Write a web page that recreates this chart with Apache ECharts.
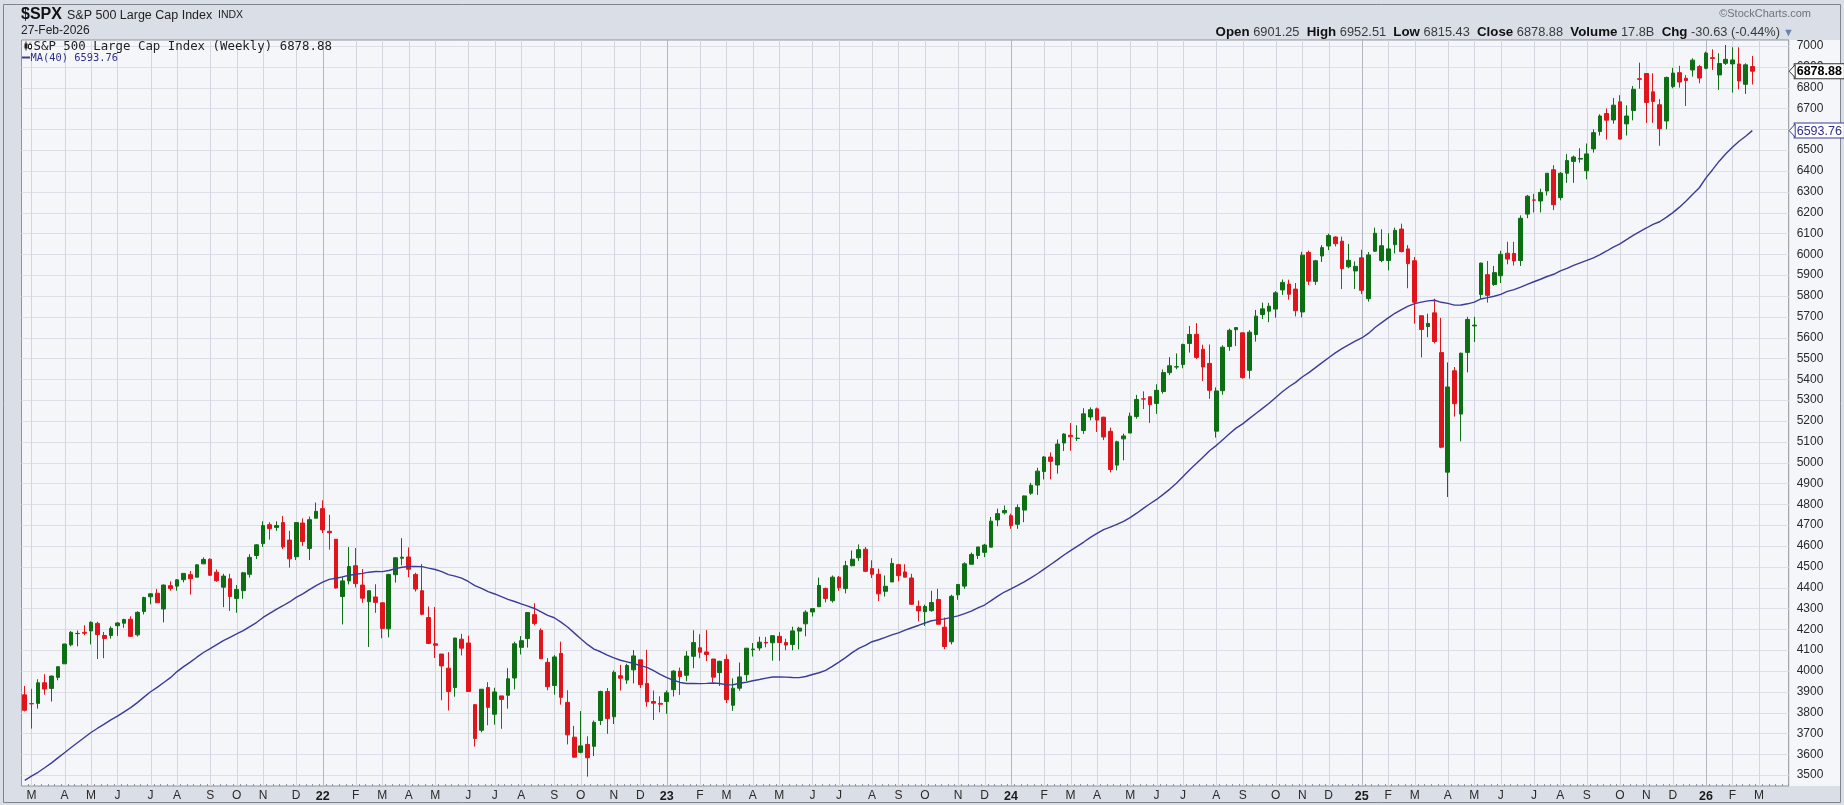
<!DOCTYPE html>
<html>
<head>
<meta charset="utf-8">
<title>$SPX S&amp;P 500 Large Cap Index weekly</title>
<script src="https://cdn.jsdelivr.net/npm/echarts@6/dist/echarts.min.js"></script>
<style>
  html, body { margin: 0; padding: 0; background: #fff; }
  #chart { width: 1844px; height: 805px; }
</style>
</head>
<body>
<div id="chart"></div>
<script>
// weekly bars, first week starts Mon 2021-02-22, last one 2026-02-23
const firstWeek = '2021-02-22'
const padWeeks = 5
// week opens on Tuesday, so it belongs to the next month
const holidayMondays = ['2021-05-31']

const opens = [
  3885, 3843, 3844, 3943, 3916, 3969, 4034, 4125, 4179, 4185,
  4192, 4228, 4170, 4170, 4217, 4229, 4248, 4173, 4285, 4356,
  4373, 4297, 4409, 4407, 4438, 4462, 4450, 4514, 4536, 4474,
  4402, 4442, 4348, 4385, 4464, 4554, 4611, 4702, 4689, 4712,
  4628, 4548, 4710, 4588, 4733, 4779, 4670, 4632, 4357, 4432,
  4505, 4412, 4332, 4355, 4327, 4202, 4462, 4541, 4547, 4463,
  4385, 4256, 4130, 4081, 4013, 3920, 4152, 4134, 3838, 3715,
  3920, 3792, 3880, 3883, 3966, 4113, 4155, 4270, 4195, 4041,
  3930, 4084, 3849, 3682, 3609, 3647, 3638, 3762, 3901, 3780,
  3977, 3956, 4005, 4053, 3940, 3853, 3844, 3853, 3910, 3999,
  3979, 4070, 4111, 4091, 4057, 3992, 4055, 3835, 3917, 3982,
  4102, 4110, 4137, 4135, 4166, 4136, 4127, 4191, 4226, 4283,
  4308, 4396, 4337, 4450, 4395, 4505, 4543, 4584, 4491, 4464,
  4382, 4427, 4510, 4475, 4446, 4310, 4284, 4289, 4343, 4210,
  4140, 4365, 4407, 4512, 4554, 4569, 4594, 4725, 4759, 4745,
  4704, 4772, 4853, 4892, 4957, 5027, 4989, 5094, 5131, 5116,
  5154, 5219, 5258, 5218, 5150, 4988, 5114, 5142, 5221, 5306,
  5316, 5284, 5341, 5432, 5459, 5471, 5572, 5616, 5544, 5476,
  5151, 5345, 5557, 5638, 5623, 5443, 5615, 5711, 5727, 5737,
  5829, 5857, 5833, 5723, 6009, 5870, 5992, 6040, 6083, 6063,
  5940, 5920, 5983, 5787, 6015, 5970, 5970, 6046, 6121, 6026,
  5969, 5705, 5653, 5719, 5528, 4954, 5441, 5233, 5529, 5656,
  5807, 5902, 5855, 5897, 6005, 6004, 5970, 6193, 6261, 6256,
  6304, 6406, 6272, 6389, 6446, 6457, 6401, 6506, 6590, 6676,
  6645, 6732, 6626, 6690, 6843, 6868, 6780, 6718, 6640, 6805,
  6872, 6845, 6885, 6901, 6893, 6944, 6861, 6917, 6914, 6914,
  6816, 6901.25
]
const highs = [
  3928, 3914, 3960, 3984, 3978, 4021, 4130, 4191, 4194, 4219,
  4238, 4236, 4187, 4214, 4234, 4250, 4262, 4286, 4356, 4372,
  4393, 4415, 4430, 4441, 4468, 4480, 4513, 4545, 4540, 4487,
  4466, 4466, 4412, 4475, 4560, 4608, 4718, 4714, 4718, 4744,
  4672, 4713, 4732, 4741, 4808, 4819, 4749, 4632, 4453, 4595,
  4590, 4489, 4385, 4416, 4327, 4466, 4546, 4637, 4593, 4471,
  4513, 4309, 4307, 4081, 4090, 4158, 4178, 4169, 3838, 3913,
  3946, 3919, 3880, 4013, 4140, 4167, 4281, 4325, 4204, 4062,
  4076, 4140, 3907, 3736, 3807, 3686, 3762, 3905, 3918, 4002,
  4029, 4034, 4100, 4053, 4101, 3906, 3878, 3906, 4003, 4016,
  4095, 4195, 4176, 4196, 4057, 4049, 4079, 3964, 4040, 4110,
  4134, 4164, 4163, 4170, 4186, 4154, 4212, 4212, 4291, 4299,
  4448, 4400, 4458, 4456, 4528, 4578, 4607, 4595, 4531, 4491,
  4458, 4541, 4514, 4512, 4466, 4338, 4318, 4385, 4394, 4256,
  4366, 4415, 4521, 4568, 4595, 4610, 4739, 4779, 4794, 4755,
  4799, 4842, 4903, 4975, 5031, 5049, 5111, 5141, 5190, 5179,
  5261, 5265, 5264, 5220, 5168, 5105, 5139, 5240, 5325, 5342,
  5316, 5376, 5447, 5506, 5524, 5571, 5656, 5670, 5566, 5567,
  5361, 5563, 5643, 5651, 5624, 5636, 5733, 5768, 5767, 5823,
  5879, 5878, 5862, 6012, 6018, 5973, 6044, 6099, 6086, 6085,
  6050, 5966, 6022, 6011, 6128, 6120, 6101, 6128, 6147, 6044,
  5987, 5705, 5715, 5787, 5695, 5481, 5459, 5528, 5700, 5700,
  5959, 5968, 5944, 6017, 6060, 6060, 6187, 6285, 6290, 6315,
  6390, 6428, 6395, 6481, 6474, 6509, 6532, 6600, 6672, 6700,
  6750, 6764, 6715, 6808, 6920, 6870, 6869, 6745, 6853, 6895,
  6905, 6860, 6941, 6909, 6973, 6984, 6965, 7005, 6994, 6994,
  6917, 6952.51
]
const lows = [
  3805, 3723, 3819, 3886, 3853, 3955, 4034, 4118, 4118, 4171,
  4127, 4057, 4061, 4155, 4168, 4207, 4164, 4165, 4271, 4320,
  4327, 4233, 4385, 4385, 4425, 4367, 4450, 4513, 4457, 4428,
  4306, 4288, 4279, 4346, 4448, 4537, 4595, 4630, 4672, 4585,
  4496, 4532, 4600, 4532, 4733, 4662, 4582, 4395, 4223, 4415,
  4401, 4327, 4115, 4279, 4157, 4161, 4424, 4507, 4450, 4381,
  4267, 4129, 4062, 3859, 3810, 3876, 4074, 3901, 3637, 3705,
  3739, 3742, 3722, 3819, 3911, 4079, 4112, 4219, 4057, 3907,
  3886, 3838, 3647, 3584, 3604, 3492, 3591, 3740, 3698, 3745,
  3906, 3938, 3940, 3918, 3828, 3764, 3801, 3794, 3877, 3885,
  3950, 4013, 4061, 4047, 3944, 3928, 3846, 3808, 3905, 3951,
  4069, 4097, 4113, 4049, 4048, 4099, 4099, 4103, 4166, 4261,
  4308, 4329, 4328, 4385, 4372, 4502, 4528, 4474, 4446, 4335,
  4357, 4427, 4430, 4450, 4317, 4238, 4216, 4284, 4223, 4104,
  4127, 4341, 4394, 4511, 4537, 4546, 4593, 4695, 4751, 4682,
  4682, 4714, 4845, 4845, 4919, 4920, 4947, 5056, 5057, 5104,
  5138, 5203, 5147, 5108, 4953, 4963, 5011, 5142, 5211, 5257,
  5191, 5234, 5331, 5420, 5448, 5453, 5528, 5497, 5391, 5306,
  5120, 5326, 5537, 5560, 5403, 5403, 5581, 5689, 5674, 5696,
  5805, 5782, 5702, 5697, 5853, 5853, 5963, 6020, 6038, 5833,
  5933, 5833, 5809, 5773, 6011, 5962, 5923, 6004, 6009, 5837,
  5667, 5505, 5602, 5572, 5069, 4835, 5221, 5102, 5433, 5579,
  5786, 5768, 5849, 5862, 5952, 5946, 5944, 6173, 6201, 6201,
  6282, 6212, 6259, 6343, 6343, 6440, 6360, 6488, 6570, 6551,
  6627, 6550, 6570, 6643, 6795, 6631, 6631, 6521, 6600, 6797,
  6800, 6712, 6853, 6821, 6888, 6885, 6789, 6909, 6776, 6792,
  6770, 6815.43
]
const closes = [
  3811, 3842, 3943, 3913, 3975, 4020, 4129, 4185, 4180, 4181,
  4233, 4174, 4156, 4204, 4230, 4247, 4166, 4281, 4352, 4370,
  4327, 4412, 4395, 4437, 4468, 4442, 4509, 4535, 4459, 4433,
  4455, 4357, 4391, 4471, 4545, 4605, 4698, 4683, 4698, 4595,
  4538, 4712, 4621, 4726, 4766, 4677, 4663, 4398, 4432, 4501,
  4419, 4349, 4385, 4329, 4204, 4463, 4543, 4546, 4488, 4393,
  4272, 4132, 4123, 4024, 3901, 4158, 4109, 3901, 3675, 3912,
  3825, 3899, 3863, 3962, 4130, 4145, 4280, 4228, 4058, 3924,
  4067, 3873, 3693, 3586, 3640, 3583, 3753, 3901, 3771, 3993,
  3965, 4026, 4072, 3934, 3852, 3845, 3840, 3895, 3999, 3973,
  4071, 4136, 4090, 4079, 3970, 4046, 3862, 3917, 3971, 4109,
  4105, 4138, 4134, 4169, 4136, 4124, 4192, 4205, 4282, 4299,
  4410, 4348, 4450, 4399, 4505, 4536, 4582, 4478, 4464, 4370,
  4406, 4516, 4457, 4450, 4320, 4288, 4309, 4328, 4224, 4117,
  4358, 4415, 4514, 4559, 4595, 4604, 4719, 4755, 4770, 4697,
  4784, 4840, 4891, 4959, 5027, 5006, 5089, 5137, 5124, 5117,
  5234, 5254, 5204, 5123, 4967, 5100, 5128, 5223, 5303, 5305,
  5278, 5347, 5432, 5465, 5460, 5567, 5615, 5505, 5459, 5347,
  5344, 5554, 5635, 5648, 5408, 5626, 5703, 5738, 5751, 5815,
  5865, 5808, 5729, 5996, 5871, 5969, 6032, 6090, 6051, 5931,
  5971, 5942, 5827, 5997, 6101, 6041, 6026, 6115, 6013, 5955,
  5770, 5639, 5668, 5581, 5074, 5363, 5283, 5525, 5687, 5660,
  5958, 5803, 5912, 6000, 5977, 5968, 6173, 6279, 6260, 6297,
  6389, 6238, 6389, 6450, 6467, 6460, 6482, 6584, 6664, 6644,
  6716, 6553, 6664, 6792, 6840, 6729, 6734, 6603, 6849, 6870,
  6827, 6834, 6932, 6846, 6966, 6940, 6916, 6936, 6933, 6832,
  6909.51, 6878.88
]
// 40-week simple moving average, as plotted
const ma40 = [
  3474.6, 3494.5, 3513.2, 3535.0, 3557.0, 3582.2, 3607.2, 3632.2, 3656.1, 3680.2,
  3704.3, 3724.8, 3744.4, 3764.6, 3782.6, 3803.1, 3823.8, 3847.8, 3874.2, 3899.7,
  3921.0, 3944.2, 3967.4, 3996.6, 4020.6, 4042.0, 4065.8, 4088.2, 4107.2, 4126.4,
  4145.1, 4161.4, 4177.3, 4193.5, 4212.9, 4232.0, 4256.6, 4276.5, 4295.6, 4312.8,
  4330.9, 4352.7, 4369.6, 4390.0, 4409.7, 4426.2, 4439.5, 4444.8, 4451.1, 4459.1,
  4463.8, 4468.2, 4473.9, 4477.0, 4476.4, 4481.8, 4491.2, 4497.8, 4501.2, 4501.8,
  4500.4, 4493.4, 4486.6, 4476.3, 4462.1, 4455.0, 4445.0, 4429.2, 4409.6, 4396.5,
  4380.8, 4369.3, 4356.1, 4343.4, 4333.0, 4321.5, 4311.1, 4299.7, 4283.7, 4266.9,
  4255.2, 4234.2, 4211.0, 4182.5, 4154.3, 4127.0, 4104.2, 4091.8, 4075.3, 4062.6,
  4051.2, 4043.2, 4035.3, 4025.5, 4016.7, 4001.2, 3983.6, 3967.4, 3955.1, 3944.6,
  3939.6, 3939.7, 3938.9, 3940.3, 3942.0, 3939.2, 3933.0, 3933.4, 3940.8, 3945.7,
  3952.7, 3958.7, 3965.5, 3970.7, 3970.8, 3970.3, 3968.1, 3967.5, 3973.1, 3982.5,
  3991.1, 4002.9, 4021.9, 4042.2, 4063.8, 4087.6, 4108.4, 4122.8, 4140.1, 4149.5,
  4160.6, 4172.8, 4182.4, 4195.3, 4207.0, 4218.1, 4229.8, 4240.7, 4246.3, 4249.9,
  4257.1, 4264.0, 4274.6, 4286.6, 4302.3, 4316.2, 4337.6, 4358.6, 4378.6, 4393.3,
  4410.2, 4427.8, 4446.7, 4466.5, 4488.7, 4510.8, 4533.2, 4556.5, 4577.6, 4598.0,
  4618.6, 4641.3, 4660.1, 4678.2, 4689.8, 4703.9, 4717.5, 4736.1, 4757.1, 4780.5,
  4802.3, 4823.1, 4847.4, 4872.8, 4901.3, 4933.3, 4965.9, 4995.4, 5026.2, 5057.0,
  5081.6, 5110.1, 5138.1, 5165.4, 5185.7, 5211.2, 5235.8, 5260.4, 5284.9, 5312.9,
  5339.9, 5364.1, 5385.1, 5411.0, 5432.1, 5456.2, 5479.7, 5503.6, 5526.7, 5547.1,
  5565.5, 5582.7, 5598.3, 5620.1, 5648.5, 5672.0, 5694.5, 5716.8, 5734.5, 5750.8,
  5763.1, 5770.4, 5776.3, 5779.2, 5769.5, 5764.4, 5756.1, 5756.6, 5762.3, 5770.1,
  5785.5, 5791.7, 5798.6, 5807.4, 5821.7, 5830.2, 5842.0, 5855.5, 5868.2, 5880.3,
  5893.4, 5904.1, 5920.6, 5932.0, 5946.9, 5959.1, 5970.4, 5982.7, 5998.1, 6015.9,
  6034.5, 6049.8, 6070.7, 6090.6, 6109.1, 6126.3, 6143.9, 6156.2, 6177.1, 6199.9,
  6226.4, 6256.2, 6287.8, 6319.5, 6366.8, 6406.2, 6447.0, 6482.3, 6513.4, 6542.7,
  6566.5, 6593.76
]
const priceTicks = [
  3500, 3600, 3700, 3800, 3900, 4000, 4100, 4200, 4300, 4400, 4500, 4600,
  4700, 4800, 4900, 5000, 5100, 5200, 5300, 5400, 5500, 5600, 5700, 5800,
  5900, 6000, 6100, 6200, 6300, 6400, 6500, 6600, 6700, 6800, 6900, 7000
]
const monthLetters = ['J', 'F', 'M', 'A', 'M', 'J', 'J', 'A', 'S', 'O', 'N', 'D']
const lastVolume = '17.8B'
const lastDate = '27-Feb-2026'

const UP = '#0e6e14'
const DOWN = '#e0141b'
const MA_COLOR = '#3b3b98'
const FONT = '"Liberation Sans", Arial, sans-serif'
const MONO = '"DejaVu Sans Mono", monospace'
const Y_MIN = 3447.4
const Y_MAX = 7028.8

// category list: one per week, plus empty weeks on the right
function buildWeeks () {
  const out = []
  const d = new Date(firstWeek + 'T00:00:00Z')
  for (let i = 0; i < opens.length + padWeeks; i++) {
    out.push(d.toISOString().slice(0, 10))
    d.setUTCDate(d.getUTCDate() + 7)
  }
  return out
}
const weeks = buildWeeks()

function tradeMonth (date) {
  const d = new Date(date + 'T00:00:00Z')
  if (holidayMondays.includes(date)) d.setUTCDate(d.getUTCDate() + 1)
  return d.getUTCMonth()
}
const monthStart = weeks.map((w, i) => i > 0 && tradeMonth(w) !== tradeMonth(weeks[i - 1]))

const n = closes.length
const lastClose = closes[n - 1]
const lastMA = ma40[n - 1]
const chg = lastClose - closes[n - 2]
const chgPct = chg / closes[n - 2] * 100

const chart = echarts.init(document.getElementById('chart'))

chart.setOption({
  animation: false,
  backgroundColor: '#dadee6',
  grid: {
    left: 21.5, right: 55.3, top: 40, bottom: 19,
    show: true, backgroundColor: '#f5f6fa', borderColor: '#8f949c', borderWidth: 1,
    containLabel: false, outerBoundsMode: 'none'
  },
  xAxis: {
    type: 'category',
    data: weeks,
    boundaryGap: true,
    axisLine: { show: false },
    axisTick: { show: true, interval: 0, inside: true, length: 2, lineStyle: { color: '#8f949c' } },
    splitLine: { show: false },
    axisLabel: {
      interval: (i) => monthStart[i],
      margin: 4,
      color: '#2a2a2a',
      fontFamily: FONT,
      fontSize: 12,
      formatter: (v) => {
        const m = tradeMonth(v)
        if (m === 0) return '{y|' + v.slice(2, 4) + '}'
        return monthLetters[m]
      },
      rich: { y: { fontFamily: FONT, fontSize: 12.5, fontWeight: 'bold', color: '#1a1a1a' } }
    }
  },
  yAxis: [{
    type: 'value',
    position: 'right',
    min: Y_MIN,
    max: Y_MAX,
    axisLine: { show: false },
    axisTick: { show: false, customValues: priceTicks },
    splitLine: { show: false },
    axisLabel: {
      customValues: priceTicks,
      margin: 8,
      color: '#2a2a2a',
      fontFamily: FONT,
      fontSize: 12,
      formatter: (v) => String(Math.round(v))
    }
  }, {
    type: 'value',
    position: 'right',
    min: Y_MIN,
    max: Y_MAX,
    z: 5,
    axisLine: { show: false },
    axisTick: { show: false, customValues: [lastClose, lastMA] },
    splitLine: { show: false },
    axisLabel: {
      customValues: [lastClose, lastMA],
      margin: 6,
      formatter: (v) => Math.abs(v - lastClose) < 0.01 ? '{c|' + v.toFixed(2) + '}' : '{m|' + v.toFixed(2) + '}',
      rich: {
        c: {
          fontFamily: FONT, fontSize: 12.5, fontWeight: 'bold', color: '#000',
          backgroundColor: '#fff', borderColor: '#333', borderWidth: 1,
          padding: [1, 2, 0, 2], lineHeight: 13
        },
        m: {
          fontFamily: FONT, fontSize: 12.5, color: '#2e2e8c',
          backgroundColor: '#fff', borderColor: '#3b3b98', borderWidth: 1,
          padding: [1, 2, 0, 2], lineHeight: 13
        }
      }
    }
  }],
  series: [{
    name: 'SPX',
    type: 'candlestick',
    z: 2,
    barWidth: 4.2,
    data: opens.map((o, i) => [o, closes[i], lows[i], highs[i]]),
    itemStyle: {
      color: UP, color0: DOWN, borderColor: UP, borderColor0: DOWN, borderWidth: 1
    }
  }, {
    name: 'MA(40)',
    type: 'line',
    z: 3,
    data: ma40,
    symbol: 'none',
    lineStyle: { color: MA_COLOR, width: 1.4 }
  }]
})

// grid lines and decorations, placed with the chart's own scales
const gridLeft = 21.5
const gridRight = 1844 - 55.3
const gridTop = 40
const gridBottom = 805 - 19
const els = []

els.push({ type: 'rect', z: -1, silent: true, shape: { x: gridRight, y: gridTop, width: 1840 - gridRight, height: gridBottom - gridTop }, style: { fill: '#f5f6fa' } })
els.push({ type: 'rect', z: -1, silent: true, shape: { x: 3.5, y: 4.5, width: 1837, height: 798 }, style: { fill: 'none', stroke: '#80848c', lineWidth: 1 } })

priceTicks.forEach((v) => {
  const y = Math.round(chart.convertToPixel({ yAxisIndex: 0 }, v)) + 0.5
  els.push({ type: 'line', z: 1, silent: true, shape: { x1: gridLeft, y1: y, x2: gridRight, y2: y }, style: { stroke: '#dcdfe7', lineWidth: 1 } })
})
weeks.forEach((w, i) => {
  if (!monthStart[i]) return
  const x = Math.round(chart.convertToPixel({ xAxisIndex: 0 }, i)) + 0.5
  const isYear = tradeMonth(w) === 0
  els.push({ type: 'line', z: 1, silent: true, shape: { x1: x, y1: gridTop, x2: x, y2: gridBottom }, style: { stroke: isYear ? '#b3b7c0' : '#d3d6de', lineWidth: 1 } })
})

// pointers on the two boxed price labels
;[[lastClose, '#333'], [lastMA, MA_COLOR]].forEach(([v, c]) => {
  const y = chart.convertToPixel({ yAxisIndex: 0 }, v)
  const x0 = gridRight + 0.5
  const x1 = gridRight + 6.5
  els.push({ type: 'polygon', z: 6, silent: true, shape: { points: [[x0, y], [x1, y - 6.5], [x1, y + 6.5]] }, style: { fill: '#fff', stroke: c, lineWidth: 1 } })
})

// header
els.push({ type: 'text', z: 10, silent: true, style: { text: '$SPX', x: 21, y: 15, font: 'bold 16px ' + FONT, fill: '#111', textVerticalAlign: 'middle', verticalAlign: 'middle' } })
els.push({ type: 'text', z: 10, silent: true, style: { text: 'S&P 500 Large Cap Index', x: 67, y: 15.5, font: '12.5px ' + FONT, fill: '#222', textVerticalAlign: 'middle', verticalAlign: 'middle' } })
els.push({ type: 'text', z: 10, silent: true, style: { text: 'INDX', x: 218, y: 15.5, font: '10.5px ' + FONT, fill: '#222', textVerticalAlign: 'middle', verticalAlign: 'middle' } })
els.push({ type: 'text', z: 10, silent: true, style: { text: lastDate, x: 21, y: 31, font: '12px ' + FONT, fill: '#222', textVerticalAlign: 'middle', verticalAlign: 'middle' } })
els.push({ type: 'text', z: 10, silent: true, style: { text: '\u00a9StockCharts.com', x: 1811, y: 14, font: '11px ' + FONT, fill: '#6f737b', textAlign: 'right', align: 'right', textVerticalAlign: 'middle', verticalAlign: 'middle' } })

const hdr = '{b|Open} {v|' + opens[n - 1].toFixed(2) + '}  {b|High} {v|' + highs[n - 1].toFixed(2) +
  '}  {b|Low} {v|' + lows[n - 1].toFixed(2) + '}  {b|Close} {v|' + lastClose.toFixed(2) +
  '}  {b|Volume} {v|' + lastVolume + '}  {b|Chg} {v|' + chg.toFixed(2) + ' (' + chgPct.toFixed(2) + '%)}'
els.push({
  type: 'text', z: 10, silent: true,
  style: {
    text: hdr, x: 1780, y: 32.5, font: '13px ' + FONT, fill: '#333',
    textAlign: 'right', align: 'right', textVerticalAlign: 'middle', verticalAlign: 'middle',
    rich: {
      b: { fontFamily: FONT, fontSize: 13.3, fontWeight: 'bold', fill: '#111', color: '#111' },
      v: { fontFamily: FONT, fontSize: 12.8, fill: '#3a3a3a', color: '#3a3a3a' }
    }
  }
})
els.push({ type: 'text', z: 10, silent: true, style: { text: '\u25bc', x: 1788.5, y: 33, font: '11px ' + FONT, fill: '#6a82ad', textAlign: 'center', align: 'center', textVerticalAlign: 'middle', verticalAlign: 'middle' } })

// legend inside the plot
els.push({ type: 'line', z: 10, silent: true, shape: { x1: 26, y1: 41.5, x2: 26, y2: 50.5 }, style: { stroke: '#222', lineWidth: 1 } })
els.push({ type: 'rect', z: 10, silent: true, shape: { x: 24.5, y: 43.5, width: 3, height: 5 }, style: { fill: '#222' } })
els.push({ type: 'line', z: 10, silent: true, shape: { x1: 30, y1: 42.5, x2: 30, y2: 50 }, style: { stroke: '#222', lineWidth: 1 } })
els.push({ type: 'rect', z: 10, silent: true, shape: { x: 28.5, y: 44.5, width: 3, height: 4 }, style: { fill: '#fff', stroke: '#222', lineWidth: 1 } })
els.push({ type: 'text', z: 10, silent: true, style: { text: 'S&P 500 Large Cap Index (Weekly) ' + lastClose.toFixed(2), x: 33.5, y: 46.5, font: '12.4px ' + MONO, fill: '#222', textVerticalAlign: 'middle', verticalAlign: 'middle' } })
els.push({ type: 'line', z: 10, silent: true, shape: { x1: 22, y1: 57.5, x2: 30, y2: 57.5 }, style: { stroke: MA_COLOR, lineWidth: 2 } })
els.push({ type: 'text', z: 10, silent: true, style: { text: 'MA(40) ' + lastMA.toFixed(2), x: 30.5, y: 58, font: '10.4px ' + MONO, fill: '#2e2e8c', textVerticalAlign: 'middle', verticalAlign: 'middle' } })

chart.setOption({ graphic: { elements: els } })
</script>
</body>
</html>
